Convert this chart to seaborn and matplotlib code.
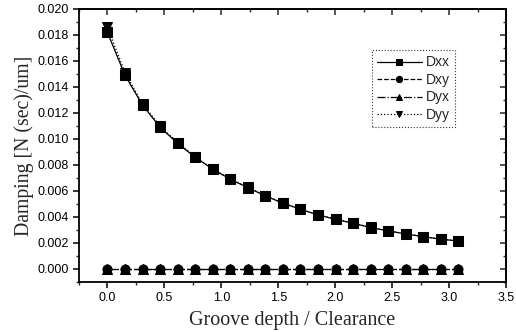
import numpy as np
import pandas as pd
import matplotlib
matplotlib.use("Agg")
import matplotlib.pyplot as plt
from matplotlib.ticker import MultipleLocator, FormatStrFormatter, NullFormatter
import seaborn as sns

# data
x_ratio = [0.0, 0.154, 0.308, 0.462, 0.616, 0.770, 0.924, 1.078, 1.232, 1.386, 1.540,
           1.694, 1.848, 2.002, 2.156, 2.310, 2.464, 2.618, 2.772, 2.926, 3.080]
Dxx = [0.0182, 0.0149, 0.0126, 0.0109, 0.00966, 0.00859, 0.00767, 0.0069, 0.00625, 0.00562,
       0.00505, 0.00459, 0.00415, 0.00382, 0.00351, 0.00318, 0.00292, 0.00269, 0.00248,
       0.00228, 0.00215]
Dyy = [0.0186, 0.0151, 0.0127, 0.0110, 0.00972, 0.00863, 0.00770, 0.00692, 0.00627, 0.00564,
       0.00507, 0.00460, 0.00416, 0.00383, 0.00352, 0.00319, 0.00293, 0.00270, 0.00249,
       0.00229, 0.00216]
Dxy = [0.0] * 21
Dyx = [0.0] * 21
series_names = ["Dxx", "Dxy", "Dyx", "Dyy"]

sns.set_style("ticks")
plt.rcParams["font.family"] = ["Liberation Sans", "DejaVu Sans"]

df = pd.DataFrame({
    "x": x_ratio * 4,
    "y": Dxx + Dxy + Dyx + Dyy,
    "s": sum([[n] * len(x_ratio) for n in series_names], []),
})

fig = plt.figure(figsize=(5.16, 3.32), dpi=100)
ax = fig.add_axes([0.153, 0.151, 0.828, 0.822])

styles = {"Dxx": ("-", "s"), "Dxy": ("--", "o"), "Dyx": ("-.", "^"), "Dyy": (":", "v")}
for name in series_names:
    ls, mk = styles[name]
    sns.lineplot(data=df[df["s"] == name], x="x", y="y", ax=ax, color="black",
                 linestyle=ls, marker=mk, markersize=6.5, linewidth=0.9,
                 markeredgecolor="black", label=name)

ax.set_xlim(-0.25, 3.5)
ax.set_ylim(-0.001, 0.020)
ax.xaxis.set_major_locator(MultipleLocator(0.5))
ax.xaxis.set_minor_locator(MultipleLocator(0.25))
ax.yaxis.set_major_locator(MultipleLocator(0.002))
ax.yaxis.set_minor_locator(MultipleLocator(0.001))
ax.yaxis.set_major_formatter(FormatStrFormatter("%.3f"))
ax.xaxis.set_major_formatter(FormatStrFormatter("%.1f"))

for sp in ax.spines.values():
    sp.set_visible(True)
    sp.set_linewidth(1.3)
    sp.set_color("black")

ax.tick_params(axis="both", which="major", direction="out", length=4, width=1.1,
               labelsize=9, colors="black", pad=3)
ax.tick_params(axis="both", which="minor", direction="out", length=2.5, width=1.0)

# inward ticks on top and right
secx = ax.secondary_xaxis("top")
secx.xaxis.set_major_locator(MultipleLocator(0.5))
secx.xaxis.set_minor_locator(MultipleLocator(0.25))
secx.xaxis.set_major_formatter(NullFormatter())
secx.tick_params(which="major", direction="in", length=4, width=1.1)
secx.tick_params(which="minor", direction="in", length=2.5, width=1.0)
secx.spines["top"].set_linewidth(1.3)
secy = ax.secondary_yaxis("right")
secy.yaxis.set_major_locator(MultipleLocator(0.002))
secy.yaxis.set_minor_locator(MultipleLocator(0.001))
secy.yaxis.set_major_formatter(NullFormatter())
secy.tick_params(which="major", direction="in", length=4, width=1.1)
secy.tick_params(which="minor", direction="in", length=2.5, width=1.0)
secy.spines["right"].set_linewidth(1.3)

ax.set_xlabel("Groove depth / Clearance", fontsize=14.5, family=["Liberation Serif"], labelpad=5)
ax.set_ylabel("Damping [N (sec)/um]", fontsize=14.2, family=["Liberation Serif"], labelpad=3)

leg = ax.legend(loc="upper left", bbox_to_anchor=(0.685, 0.85), fontsize=10,
                frameon=True, fancybox=False, handlelength=3.2, labelspacing=0.25,
                borderpad=0.4, handletextpad=0.3, borderaxespad=0)
leg.get_frame().set_edgecolor("black")
leg.get_frame().set_linewidth(0.8)
leg.get_frame().set_linestyle(":")
for h in leg.legend_handles:
    h.set_markersize(4.5)

fig.savefig("out.png", dpi=100)
